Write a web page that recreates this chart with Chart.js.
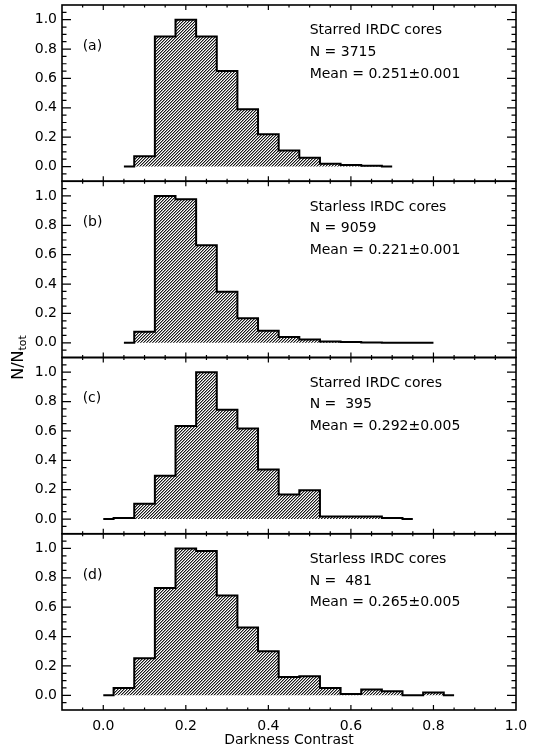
<!DOCTYPE html>
<html>
<head>
<meta charset="utf-8">
<title>Darkness contrast distributions</title>
<script src="https://cdn.jsdelivr.net/npm/chart.js@4/dist/chart.umd.min.js"></script>
<style>
  html, body { margin: 0; padding: 0; background: #ffffff; }
  #wrap { width: 537px; height: 751px; }
</style>
</head>
<body>
<div id="wrap"><canvas id="chart" width="537" height="751"></canvas></div>
<script>
// Histogram bin centres (bin width 0.05) and normalised counts N/Ntot, one pair per panel
const binsA = [0.05, 0.10, 0.15, 0.20, 0.25, 0.30, 0.35, 0.40, 0.45, 0.50, 0.55, 0.60, 0.65, 0.70];
const fracA = [0, 0.07, 0.885, 1.0, 0.885, 0.65, 0.39, 0.22, 0.11, 0.06, 0.02, 0.011, 0.005, 0];

const binsB = [0.05, 0.10, 0.15, 0.20, 0.25, 0.30, 0.35, 0.40, 0.45, 0.50, 0.55, 0.60, 0.65, 0.70, 0.75, 0.80];
const fracB = [0, 0.075, 1.0, 0.977, 0.664, 0.347, 0.168, 0.082, 0.039, 0.023, 0.009, 0.005, 0.002, 0.001, 0.001, 0];

const binsC = [0.00, 0.05, 0.10, 0.15, 0.20, 0.25, 0.30, 0.35, 0.40, 0.45, 0.50, 0.55, 0.60, 0.65, 0.70, 0.75];
const fracC = [0, 0.008, 0.104, 0.295, 0.633, 1.0, 0.744, 0.617, 0.338, 0.168, 0.197, 0.018, 0.018, 0.018, 0.008, 0];

const binsD = [0.00, 0.05, 0.10, 0.15, 0.20, 0.25, 0.30, 0.35, 0.40, 0.45, 0.50, 0.55, 0.60, 0.65, 0.70, 0.75, 0.80, 0.85];
const fracD = [0, 0.05, 0.252, 0.73, 1.0, 0.982, 0.68, 0.461, 0.30, 0.125, 0.13, 0.05, 0.009, 0.039, 0.027, 0, 0.02, 0];

// Panel annotations
const panelTags   = ['(a)', '(b)', '(c)', '(d)'];
const panelTitles = ['Starred IRDC cores', 'Starless IRDC cores', 'Starred IRDC cores', 'Starless IRDC cores'];
const panelCounts = ['N = 3715', 'N = 9059', 'N =  395', 'N =  481'];
const panelMeans  = ['Mean = 0.251\u00b10.001', 'Mean = 0.221\u00b10.001', 'Mean = 0.292\u00b10.005', 'Mean = 0.265\u00b10.005'];

// Axis ticks
const xTickLabels = [0.0, 0.2, 0.4, 0.6, 0.8, 1.0];
const yTickLabels = [0.0, 0.2, 0.4, 0.6, 0.8, 1.0];
const xMinorStep = 0.05;
const yMinorStep = 0.05;

const FONT = 'DejaVu Sans';
Chart.defaults.font.family = FONT;
Chart.defaults.color = '#000';

// Fine diagonal hatching used to fill each histogram
function makeHatch() {
  const c = document.createElement('canvas');
  c.width = 3; c.height = 3;
  const g = c.getContext('2d');
  const img = g.createImageData(3, 3);
  for (let y = 0; y < 3; y++) {
    for (let x = 0; x < 3; x++) {
      const i = (y * 3 + x) * 4;
      const r = (x + y) % 3;
      const v = r === 2 ? 25 : (r === 0 ? 150 : 255);
      img.data[i] = v; img.data[i + 1] = v; img.data[i + 2] = v; img.data[i + 3] = 255;
    }
  }
  g.putImageData(img, 0, 0);
  return g.createPattern(c, 'repeat');
}
const hatch = makeHatch();

const panels = [
  { id: 'ya', bins: binsA, frac: fracA },
  { id: 'yb', bins: binsB, frac: fracB },
  { id: 'yc', bins: binsC, frac: fracC },
  { id: 'yd', bins: binsD, frac: fracD }
];

const datasets = panels.map(p => ({
  data: p.bins.map((x, i) => ({ x: x, y: p.frac[i] })),
  yAxisID: p.id,
  stepped: 'middle',
  borderColor: '#000',
  borderWidth: 2,
  pointRadius: 0,
  fill: 'origin',
  backgroundColor: hatch
}));

function panelAxis(weight) {
  return {
    type: 'linear',
    position: 'left',
    stack: 'panels',
    stackWeight: 1,
    weight: weight,
    min: -0.1,
    max: 1.1,
    offset: false,
    grid: { display: false, drawTicks: false },
    border: { display: false },
    afterBuildTicks: s => { s.ticks = yTickLabels.map(v => ({ value: v })); },
    afterFit: s => { s.width = 62; s.paddingTop = 0; s.paddingBottom = 0; },
    ticks: {
      autoSkip: false,
      padding: 5,
      font: { size: 14, family: FONT },
      color: '#000',
      callback: v => Number(v).toFixed(1)
    }
  };
}

// Frames, inward tick marks, panel text and the shared y title
const framePlugin = {
  id: 'panelFrames',
  afterDatasetsDraw(chart) {
    const ctx = chart.ctx;
    const xs = chart.scales.x;
    const left = xs.left, right = xs.right;
    ctx.save();
    panels.forEach((p, k) => {
      const ys = chart.scales[p.id];
      const top = ys.top, bottom = ys.bottom;

      // tick marks
      ctx.strokeStyle = '#000';
      ctx.lineWidth = 1.2;
      ctx.beginPath();
      for (let v = -0.1 + xMinorStep; v < 1.0 - 1e-6; v += xMinorStep) {
        const px = xs.getPixelForValue(v);
        const major = xTickLabels.some(t => Math.abs(t - v) < 1e-6);
        const len = major ? 5 : 2.5;
        ctx.moveTo(px, bottom); ctx.lineTo(px, bottom - len);
        ctx.moveTo(px, top); ctx.lineTo(px, top + len);
      }
      for (let v = -0.1 + yMinorStep; v < 1.1 - 1e-6; v += yMinorStep) {
        const py = ys.getPixelForValue(v);
        const major = yTickLabels.some(t => Math.abs(t - v) < 1e-6);
        const len = major ? 9 : 4.5;
        ctx.moveTo(left, py); ctx.lineTo(left + len, py);
        ctx.moveTo(right, py); ctx.lineTo(right - len, py);
      }
      ctx.stroke();

      // frame
      ctx.lineWidth = 1.6;
      ctx.strokeRect(left, top, right - left, bottom - top);

      // annotations
      ctx.fillStyle = '#000';
      ctx.font = '14px ' + FONT;
      ctx.textBaseline = 'middle';
      ctx.textAlign = 'left';
      ctx.fillText(panelTags[k], xs.getPixelForValue(-0.05), ys.getPixelForValue(0.82));
      const tx = xs.getPixelForValue(0.50);
      ctx.fillText(panelTitles[k], tx, ys.getPixelForValue(0.925));
      ctx.fillText(panelCounts[k], tx, ys.getPixelForValue(0.778));
      ctx.fillText(panelMeans[k], tx, ys.getPixelForValue(0.63));
    });

    // shared y-axis title N/N_tot
    const yTop = chart.scales.ya.top, yBot = chart.scales.yd.bottom;
    ctx.translate(19, (yTop + yBot) / 2);
    ctx.rotate(-Math.PI / 2);
    ctx.textBaseline = 'middle';
    ctx.font = '16px ' + FONT;
    const main = 'N/N';
    const w1 = ctx.measureText(main).width;
    ctx.font = '11px ' + FONT;
    const sub = 'tot';
    const w2 = ctx.measureText(sub).width;
    const start = -(w1 + w2) / 2;
    ctx.font = '16px ' + FONT;
    ctx.fillText(main, start, 0);
    ctx.font = '11px ' + FONT;
    ctx.fillText(sub, start + w1, 4);
    ctx.restore();
  }
};

new Chart(document.getElementById('chart'), {
  type: 'line',
  data: { datasets: datasets },
  options: {
    responsive: false,
    animation: false,
    devicePixelRatio: 1,
    layout: { padding: { left: 0, right: 21, top: 5, bottom: 0 } },
    plugins: { legend: { display: false }, tooltip: { enabled: false } },
    scales: {
      x: {
        type: 'linear',
        position: 'bottom',
        min: -0.1,
        max: 1.0,
        grid: { display: false, drawTicks: false },
        border: { display: false },
        afterBuildTicks: s => { s.ticks = xTickLabels.map(v => ({ value: v })); },
        afterFit: s => { s.height = 41; s.paddingLeft = 0; s.paddingRight = 0; },
        ticks: {
          autoSkip: false,
          maxRotation: 0,
          padding: 8,
          font: { size: 14, family: FONT },
          color: '#000',
          callback: v => Number(v).toFixed(1)
        },
        title: {
          display: true,
          text: 'Darkness Contrast',
          font: { size: 14, family: FONT },
          color: '#000',
          padding: { top: 0, bottom: 2 }
        }
      },
      ya: panelAxis(4),
      yb: panelAxis(3),
      yc: panelAxis(2),
      yd: panelAxis(1)
    }
  },
  plugins: [framePlugin]
});
</script>
</body>
</html>
